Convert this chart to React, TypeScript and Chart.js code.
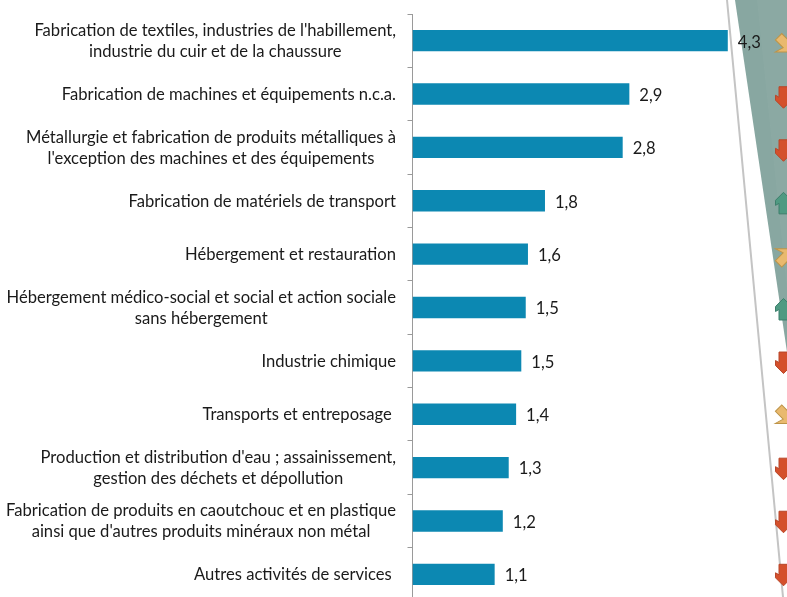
import React, { useEffect, useRef } from "react";
import { Chart, registerables } from "chart.js";

Chart.register(...registerables);

const categories: (string | string[])[] = [
  ["Fabrication de textiles, industries de l'habillement,", "industrie du cuir et de la chaussure"],
  "Fabrication de machines et équipements n.c.a.",
  ["Métallurgie et fabrication de produits métalliques à", "l'exception des machines et des équipements"],
  "Fabrication de matériels de transport",
  "Hébergement et restauration",
  ["Hébergement médico-social et social et action sociale", "sans hébergement"],
  "Industrie chimique",
  "Transports et entreposage ",
  ["Production et distribution d'eau ; assainissement,", "gestion des déchets et dépollution"],
  ["Fabrication de produits en caoutchouc et en plastique", "ainsi que d'autres produits minéraux non métal"],
  "Autres activités de services ",
];
const values = [4.26, 2.93, 2.84, 1.79, 1.56, 1.53, 1.47, 1.40, 1.30, 1.22, 1.11];
const valueLabels = ["4,3", "2,9", "2,8", "1,8", "1,6", "1,5", "1,5", "1,4", "1,3", "1,2", "1,1"];
// rotation of each trend arrow, in degrees: 0 = up, 180 = down
const trendAngles = [135, 180, 180, 0, 45, 0, 180, 135, 180, 180, 180];
const trendFill: Record<string, string> = { 0: "#4f9a82", 45: "#e9b96e", 135: "#e9b96e", 180: "#d4502c" };
const trendStroke: Record<string, string> = { 0: "#3d7f6c", 45: "#bd9448", 135: "#bd9448", 180: "#b8472a" };

const FONT = "Lato, Carlito, sans-serif";
const FONT_SIZE = 16.6;
const LINE_HEIGHT = 21;
const TEXT_COLOR = "#1a1a1a";

const decoration = {
  id: "decoration",
  beforeDraw(chart: any) {
    const { ctx } = chart;
    ctx.save();
    ctx.fillStyle = "#88a7a1";
    ctx.beginPath();
    ctx.moveTo(735, 0);
    ctx.lineTo(787, 0);
    ctx.lineTo(787, 352);
    ctx.closePath();
    ctx.fill();
    ctx.fillStyle = "rgba(255,255,255,0.03)";
    ctx.beginPath();
    ctx.moveTo(757, 0);
    ctx.lineTo(787, 0);
    ctx.lineTo(787, 290);
    ctx.closePath();
    ctx.fill();
    ctx.strokeStyle = "#c4c4c4";
    ctx.lineWidth = 2;
    ctx.beginPath();
    ctx.moveTo(727, 0);
    ctx.lineTo(783, 597);
    ctx.stroke();
    ctx.restore();
  },
  afterDraw(chart: any) {
    const { ctx } = chart;
    const xs = chart.scales.x;
    const ys = chart.scales.y;
    ctx.save();
    ctx.font = `${FONT_SIZE}px ${FONT}`;
    ctx.fillStyle = TEXT_COLOR;
    ctx.textBaseline = "middle";

    // category labels: each block is right-aligned, its lines centred within it
    const rightEdge = ys.right - 16.5;
    categories.forEach((label, i) => {
      const lines = Array.isArray(label) ? label : [label];
      const widest = Math.max(...lines.map((l) => ctx.measureText(l).width));
      const y0 = ys.getPixelForValue(i) + 0.5 - ((lines.length - 1) * LINE_HEIGHT) / 2;
      ctx.textAlign = "center";
      lines.forEach((l, j) => {
        ctx.fillText(l, rightEdge - widest / 2, y0 + j * LINE_HEIGHT);
      });
    });

    ctx.textAlign = "left";
    values.forEach((v, i) => {
      ctx.fillText(valueLabels[i], xs.getPixelForValue(v) + 10, ys.getPixelForValue(i) + 1.5);
    });

    trendAngles.forEach((deg, i) => {
      const y = ys.getPixelForValue(i) * 0.9944 + 3.7;
      const straight = deg % 90 === 0;
      ctx.save();
      ctx.translate(straight ? 783.5 : 786, y);
      ctx.rotate((deg * Math.PI) / 180);
      ctx.fillStyle = trendFill[deg];
      ctx.strokeStyle = trendStroke[deg];
      ctx.lineWidth = 1;
      ctx.beginPath();
      ctx.moveTo(0, -11);
      if (straight) {
        ctx.lineTo(8, -3);
        ctx.lineTo(8, 2);
        ctx.lineTo(4.5, 0);
      } else {
        ctx.lineTo(13, 2);
        ctx.lineTo(4.5, -0.5);
      }
      ctx.lineTo(4.5, 10.5);
      ctx.lineTo(-4.5, 10.5);
      if (straight) {
        ctx.lineTo(-4.5, 0);
        ctx.lineTo(-8, 2);
        ctx.lineTo(-8, -3);
      } else {
        ctx.lineTo(-4.5, -0.5);
        ctx.lineTo(-13, 2);
      }
      ctx.closePath();
      ctx.fill();
      ctx.stroke();
      ctx.restore();
    });
    ctx.restore();
  },
};

export default function App() {
  const ref = useRef<HTMLCanvasElement>(null);
  useEffect(() => {
    document.body.style.margin = "0";
    const chart = new Chart(ref.current!, {
      type: "bar",
      data: {
        labels: categories as any,
        datasets: [
          {
            data: values,
            backgroundColor: "#0c88b2",
            categoryPercentage: 1,
            barPercentage: 0.4,
          },
        ],
      },
      options: {
        indexAxis: "y",
        animation: false,
        responsive: false,
        layout: { padding: { top: 14, bottom: 0, left: 0, right: 0 } },
        plugins: { legend: { display: false }, tooltip: { enabled: false } },
        scales: {
          x: {
            display: false,
            min: 0,
            max: 5.06,
          },
          y: {
            afterFit(s: any) {
              s.width = 412.5;
              s.paddingTop = 0;
              s.paddingBottom = 0;
            },
            border: { display: true, color: "#9a9a9a", width: 1 },
            grid: { display: true, drawOnChartArea: false, drawTicks: true, tickLength: 5, color: "#9a9a9a", offset: true },
            ticks: { display: false, autoSkip: false },
          },
        },
      } as any,
      plugins: [decoration],
    });
    return () => chart.destroy();
  }, []);
  return (
    <div style={{ position: "absolute", left: 0, top: 0, width: 787, height: 597, overflow: "hidden", background: "#fff" }}>
      <canvas ref={ref} width={787} height={601} style={{ display: "block" }} />
    </div>
  );
}
